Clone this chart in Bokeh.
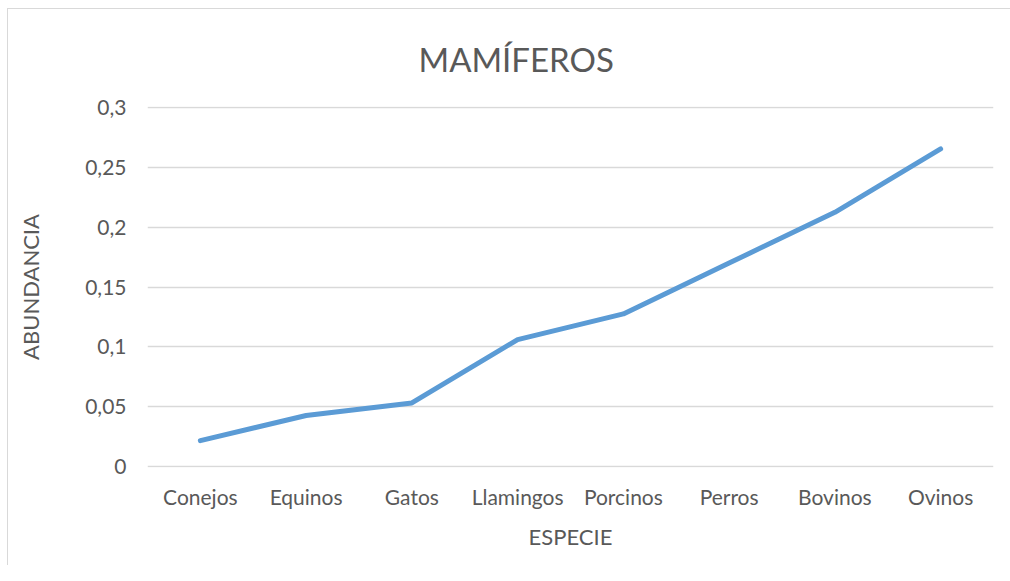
from bokeh.plotting import figure
from bokeh.models import FactorRange, Range1d, FixedTicker, CustomJSTickFormatter, Title, ColumnDataSource
from bokeh.embed import file_html
from bokeh.resources import INLINE

especies = ["Conejos", "Equinos", "Gatos", "Llamingos", "Porcinos", "Perros", "Bovinos", "Ovinos"]
abundancia = [0.0215, 0.0425, 0.053, 0.106, 0.1275, 0.170, 0.2125, 0.2655]
y_ticks = [0, 0.05, 0.1, 0.15, 0.2, 0.25, 0.3]

TEXT = "#595959"
FONT = "Lato"

p = figure(width=1010, height=565, x_range=FactorRange(factors=especies),
           y_range=Range1d(-0.001, 0.301), output_backend="svg", toolbar_location=None,
           min_border_left=147, min_border_right=17, min_border_top=106, min_border_bottom=98,
           title=None)
p.background_fill_color = None
p.border_fill_color = None
p.styles = {"background-color": "white",
            "background-image": "linear-gradient(#d9d9d9, #d9d9d9), linear-gradient(#d9d9d9, #d9d9d9)",
            "background-position": "7px 8px, 7px 8px",
            "background-size": "1px 600px, 1200px 1px",
            "background-repeat": "no-repeat, no-repeat"}
p.outline_line_color = None

src = ColumnDataSource(dict(x=especies, y=abundancia))
p.line("x", "y", source=src, line_color="#5b9bd5", line_width=5, line_cap="round", line_join="round")

p.xgrid.grid_line_color = None
p.ygrid.grid_line_color = "#d9d9d9"
p.ygrid.grid_line_width = 1.5

p.yaxis.ticker = FixedTicker(ticks=y_ticks)
p.yaxis.formatter = CustomJSTickFormatter(code="return (Math.round(tick*100)/100).toString().replace('.', ',');")

for ax in (p.xaxis[0], p.yaxis[0]):
    ax.axis_line_color = None
    ax.major_tick_line_color = None
    ax.minor_tick_line_color = None
    ax.major_label_text_color = TEXT
    ax.major_label_text_font = FONT
    ax.major_label_text_font_size = "21px"
    ax.axis_label_text_color = TEXT
    ax.axis_label_text_font = FONT
    ax.axis_label_text_font_size = "22px"
    ax.axis_label_text_font_style = "normal"

p.yaxis.axis_label = "ABUNDANCIA"
p.yaxis.major_label_standoff = 15
p.yaxis.axis_label_standoff = 38
p.xaxis.axis_label = "ESPECIE"
p.xaxis.major_label_standoff = 10
p.xaxis.axis_label_standoff = 11

title = Title(text="MAMÍFEROS", align="left", offset=271, standoff=56,
              text_color=TEXT, text_font=FONT, text_font_size="33px", text_font_style="normal")
p.add_layout(title, "above")

open("out.html", "w").write(file_html(p, INLINE))
